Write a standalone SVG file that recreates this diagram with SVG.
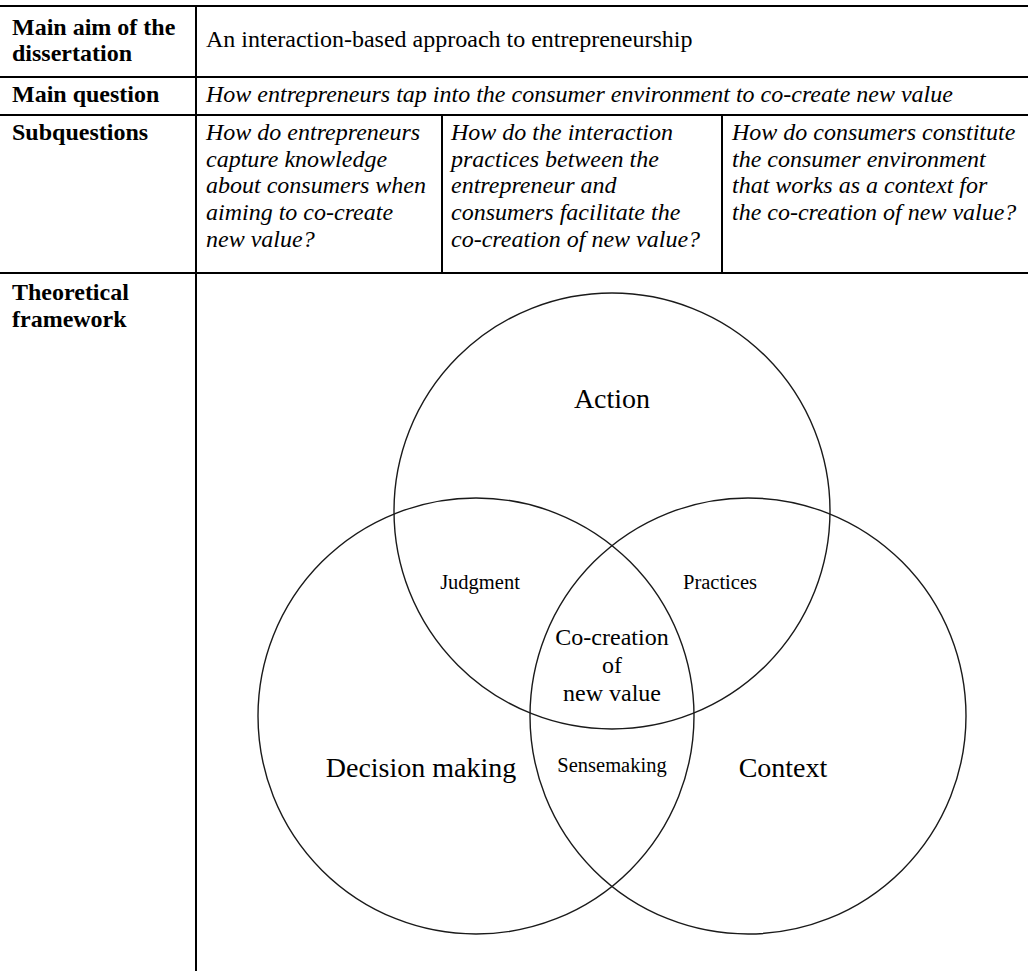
<svg xmlns="http://www.w3.org/2000/svg" width="1028" height="971" viewBox="0 0 1028 971">
<style>
.t{font-family:"Liberation Serif","Times New Roman",serif;font-size:24px;fill:#000}
.b{font-weight:bold}
.i{font-style:italic}
.grid{stroke:#000;stroke-width:2;fill:none}
.c{fill:none;stroke:#1a1a1a;stroke-width:1.4}
.big{font-family:"Liberation Serif","Times New Roman",serif;font-size:28px;fill:#000}
.sm{font-family:"Liberation Serif","Times New Roman",serif;font-size:20.5px;fill:#000}
.mid{font-family:"Liberation Serif","Times New Roman",serif;font-size:24px;fill:#000}
</style>
<rect width="1028" height="971" fill="#fff"/>
<g id="table-lines" class="grid">
<line x1="0" y1="6" x2="1028" y2="6"/>
<line x1="0" y1="77" x2="1028" y2="77"/>
<line x1="0" y1="115" x2="1028" y2="115"/>
<line x1="0" y1="273" x2="1028" y2="273"/>
<line x1="196" y1="6" x2="196" y2="971"/>
<line x1="442" y1="115" x2="442" y2="273"/>
<line x1="722" y1="115" x2="722" y2="273"/>
</g>
<g id="row-labels">
<text class="t b" x="12" y="35">Main aim of the</text>
<text class="t b" x="12" y="61">dissertation</text>
<text class="t b" x="12" y="102">Main question</text>
<text class="t b" x="12" y="140">Subquestions</text>
<text class="t b" x="12" y="300">Theoretical</text>
<text class="t b" x="12" y="327">framework</text>
</g>
<g id="main-aim"><text class="t" x="206" y="47">An interaction-based approach to entrepreneurship</text></g>
<g id="main-question"><text class="t i" x="206" y="102">How entrepreneurs tap into the consumer environment to co-create new value</text></g>
<g id="subq-1">
<text class="t i" x="206" y="140">How do entrepreneurs</text>
<text class="t i" x="206" y="166.7">capture knowledge</text>
<text class="t i" x="206" y="193.4">about consumers when</text>
<text class="t i" x="206" y="220.1">aiming to co-create</text>
<text class="t i" x="206" y="246.8">new value?</text>
</g>
<g id="subq-2">
<text class="t i" x="451" y="140">How do the interaction</text>
<text class="t i" x="451" y="166.7">practices between the</text>
<text class="t i" x="451" y="193.4">entrepreneur and</text>
<text class="t i" x="451" y="220.1">consumers facilitate the</text>
<text class="t i" x="451" y="246.8">co-creation of new value?</text>
</g>
<g id="subq-3">
<text class="t i" x="732" y="140">How do consumers constitute</text>
<text class="t i" x="732" y="166.7">the consumer environment</text>
<text class="t i" x="732" y="193.4">that works as a context for</text>
<text class="t i" x="732" y="220.1">the co-creation of new value?</text>
</g>
<g id="circle-action"><circle class="c" cx="612" cy="511" r="218"/><text class="big" x="612" y="408" text-anchor="middle">Action</text></g>
<g id="circle-decision"><circle class="c" cx="476" cy="716" r="218"/><text class="big" x="421" y="777" text-anchor="middle">Decision making</text></g>
<g id="circle-context"><circle class="c" cx="748" cy="716" r="218"/><text class="big" x="783" y="777" text-anchor="middle">Context</text></g>
<g id="judgment"><text class="sm" x="480" y="589" text-anchor="middle">Judgment</text></g>
<g id="practices"><text class="sm" x="720" y="589" text-anchor="middle">Practices</text></g>
<g id="sensemaking"><text class="sm" x="612" y="772" text-anchor="middle">Sensemaking</text></g>
<g id="co-creation">
<text class="mid" x="612" y="645" text-anchor="middle">Co-creation</text>
<text class="mid" x="612" y="673" text-anchor="middle">of</text>
<text class="mid" x="612" y="701" text-anchor="middle">new value</text>
</g>
</svg>
